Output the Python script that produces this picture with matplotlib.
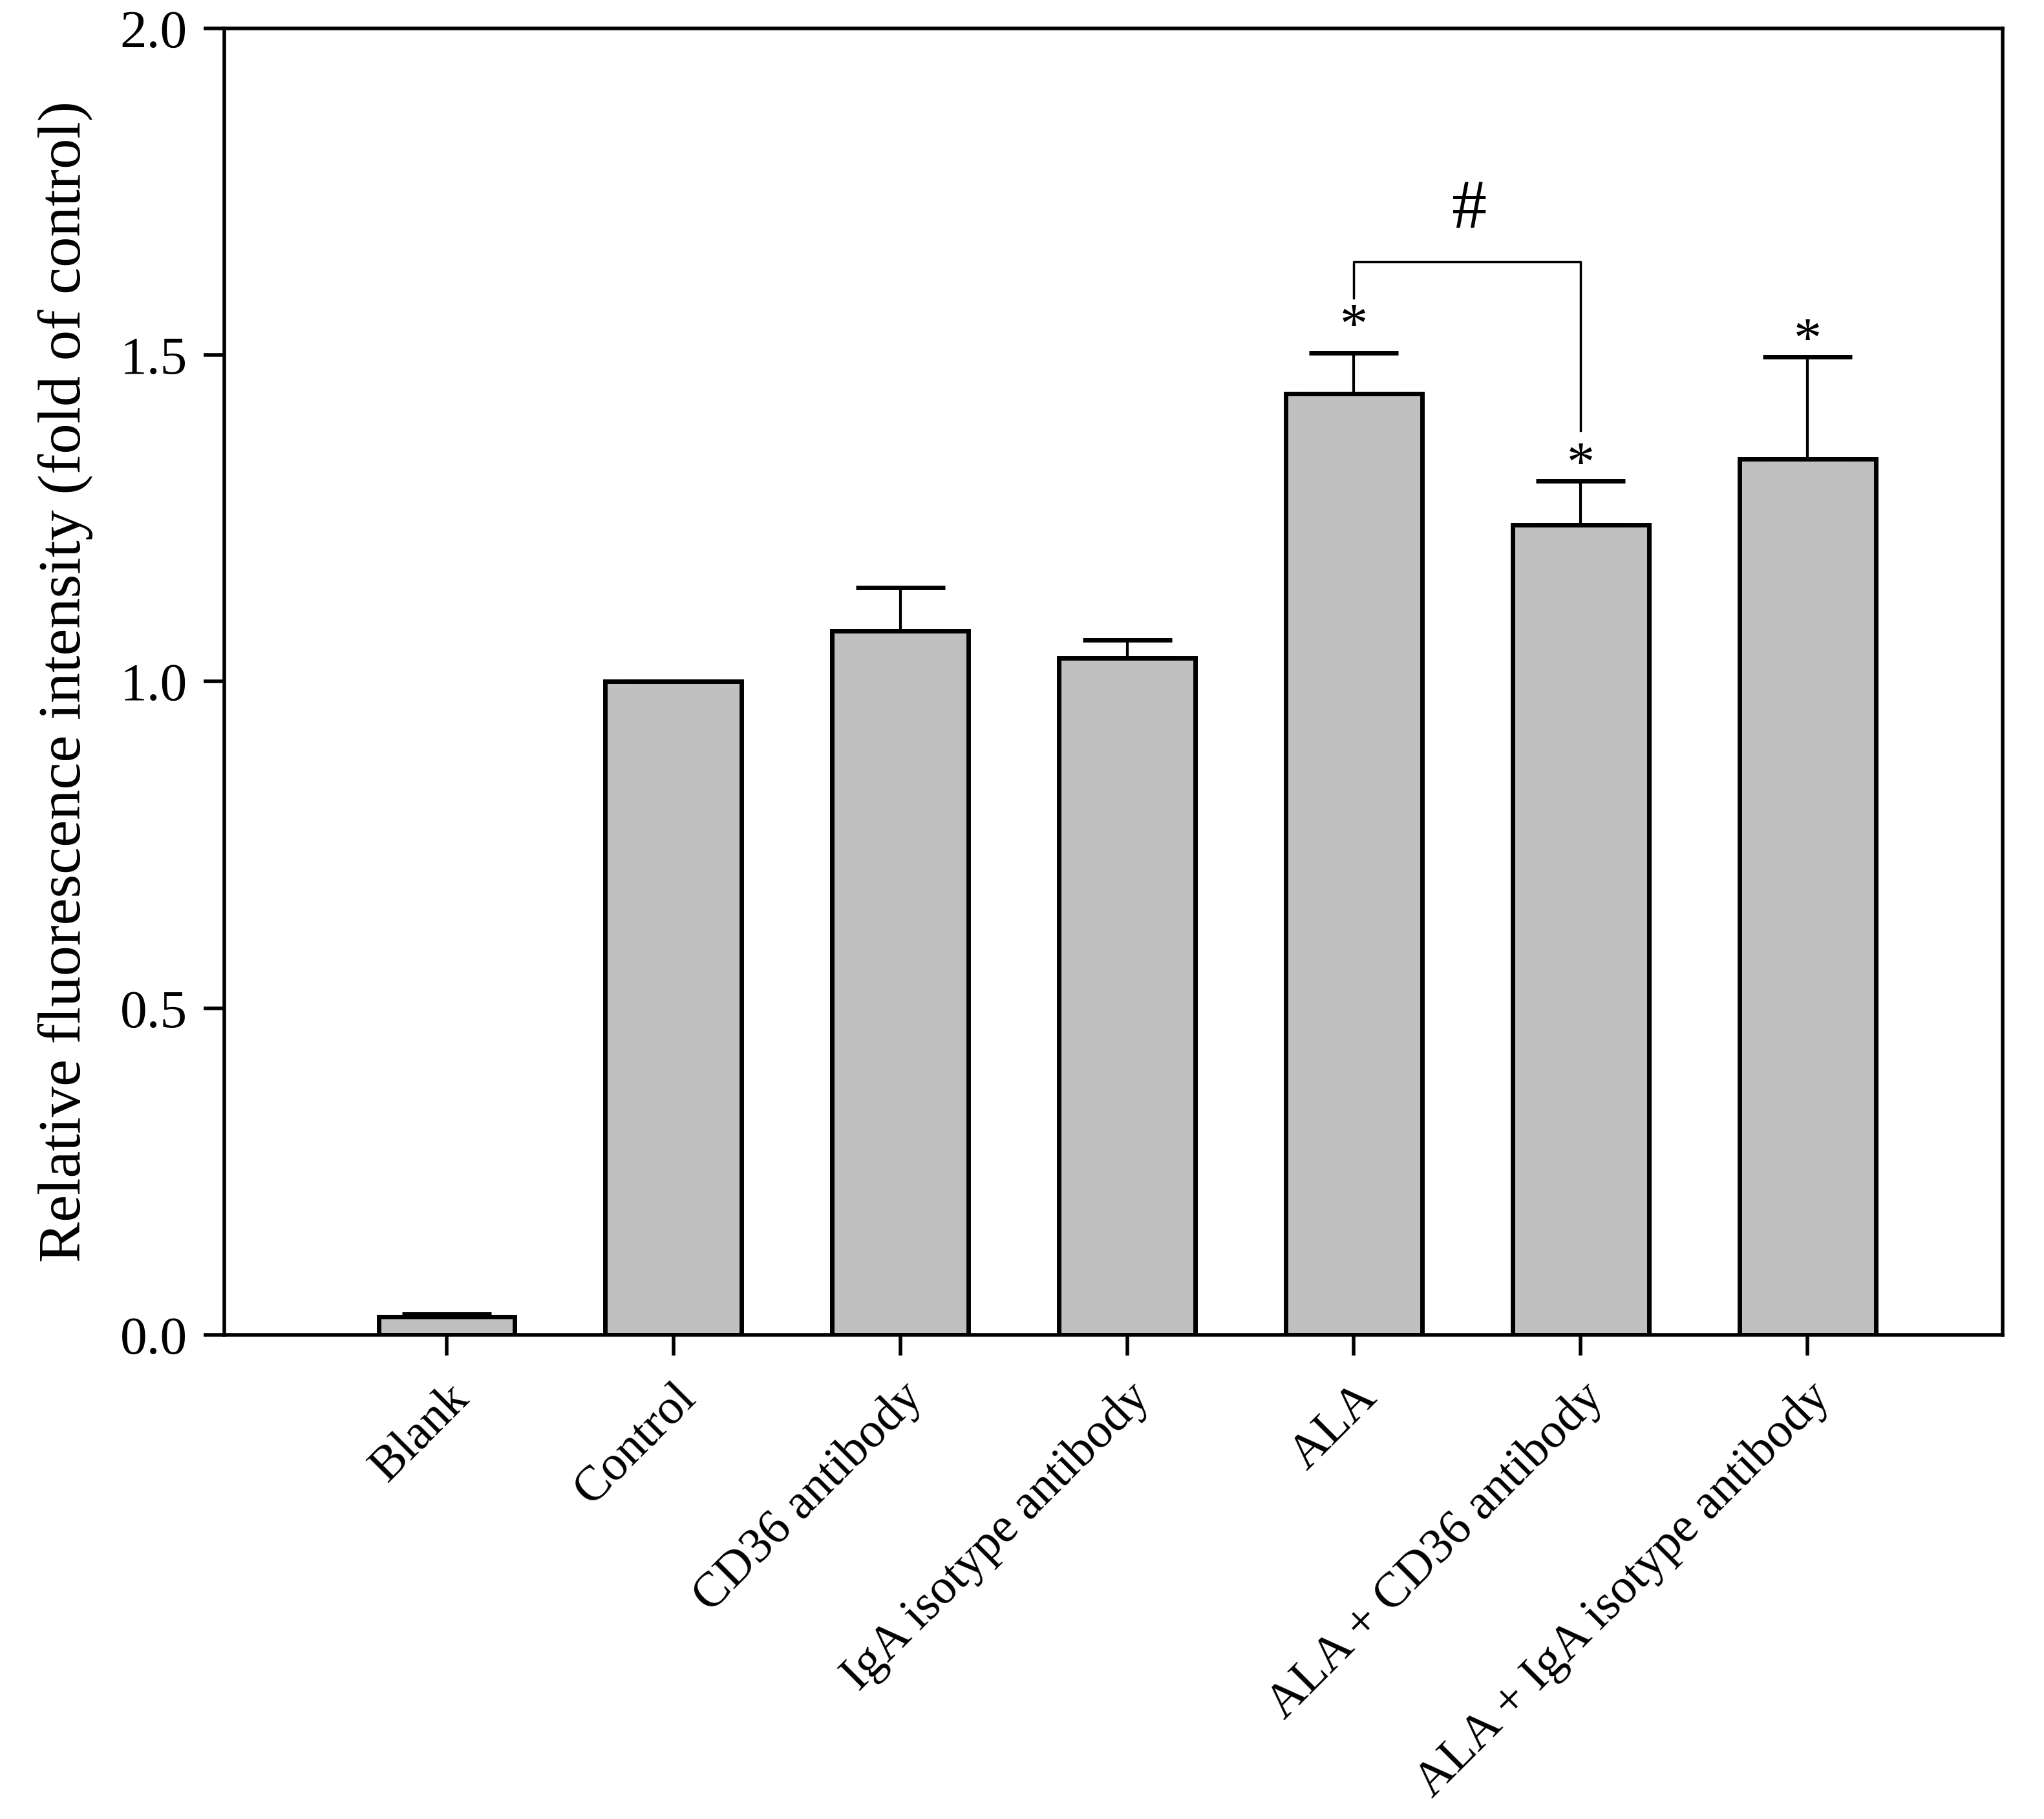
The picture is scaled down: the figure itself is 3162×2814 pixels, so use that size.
import matplotlib
matplotlib.use("Agg")
import matplotlib.pyplot as plt
import numpy as np

categories = ["Blank", "Control", "CD36 antibody", "IgA isotype antibody", "ALA",
              "ALA + CD36 antibody", "ALA + IgA isotype antibody"]
values = [0.028, 1.0, 1.078, 1.036, 1.441, 1.240, 1.341]
errors = [0.004, 0.0, 0.066, 0.028, 0.062, 0.067, 0.156]
star_flags = [False, False, False, False, True, True, True]
star_y = [0, 0, 0, 0, 1.557, 1.345, 1.535]
yticks = [0.0, 0.5, 1.0, 1.5, 2.0]

plt.rcParams['font.family'] = ['Liberation Serif', 'DejaVu Serif']

fig = plt.figure(figsize=(31.62, 28.14), dpi=100)
ax = fig.add_axes([0.1097, 0.2662, 0.8701, 0.7182])

x = np.arange(len(categories))
ax.bar(x, values, width=0.6, color='#c0c0c0', edgecolor='black', linewidth=5, zorder=2)
lower = [0] * len(errors)
ax.errorbar(x, values, yerr=[lower, errors], fmt='none', ecolor='black',
            elinewidth=3, capsize=50, capthick=5, zorder=3)

for xi, flag, sy in zip(x, star_flags, star_y):
    if flag:
        ax.annotate("*", xy=(xi, sy), xytext=(0, -12), textcoords='offset points',
                    ha='center', va='center', fontsize=62)

# bracket between ALA and ALA + CD36 antibody
ax.plot([4, 4, 5, 5], [1.587, 1.643, 1.643, 1.384], color='black', linewidth=2.5, zorder=3)
ax.text(4.51, 1.72, "#", ha='center', va='center', fontsize=78)

ax.set_xlim(-0.98, 6.86)
ax.set_ylim(0, 2.0)
ax.set_yticks(yticks)
ax.set_yticklabels([f"{t:.1f}" for t in yticks], fontsize=60)
ax.set_xticks(x)
ax.set_xticklabels(categories, rotation=45, ha='right', rotation_mode='anchor', fontsize=55)
ax.tick_params(axis='both', direction='out', length=23, width=4, pad=18)
ax.tick_params(axis='x', pad=22)
for s in ax.spines.values():
    s.set_linewidth(4)
ax.set_ylabel("Relative fluorescence intensity (fold of control)", fontsize=68, labelpad=30)

fig.savefig("out.png", dpi=100, facecolor='white')
